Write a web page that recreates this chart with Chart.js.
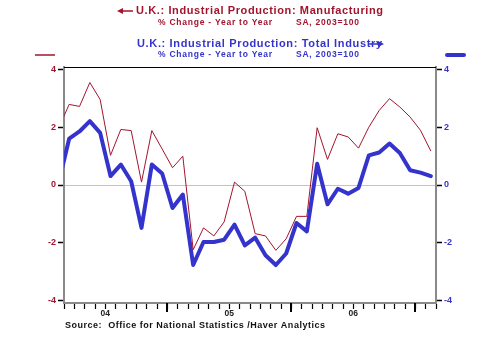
<!DOCTYPE html>
<html>
<head>
<meta charset="utf-8">
<script src="https://cdn.jsdelivr.net/npm/chart.js@4.4.1/dist/chart.umd.min.js"></script>
<style>
  html, body { margin: 0; padding: 0; background: #fff; }
  #wrap { width: 500px; height: 340px; }
</style>
</head>
<body>
<div id="wrap"><canvas id="chart" width="500" height="340"></canvas></div>
<script>
// months, Feb 2004 .. Feb 2007
const months = ['Feb-04','Mar-04','Apr-04','May-04','Jun-04','Jul-04','Aug-04','Sep-04','Oct-04','Nov-04','Dec-04',
  'Jan-05','Feb-05','Mar-05','Apr-05','May-05','Jun-05','Jul-05','Aug-05','Sep-05','Oct-05','Nov-05','Dec-05',
  'Jan-06','Feb-06','Mar-06','Apr-06','May-06','Jun-06','Jul-06','Aug-06','Sep-06','Oct-06','Nov-06','Dec-06',
  'Jan-07','Feb-07'];

// % change year to year
const manufacturing = [2.0, 2.80, 2.73, 3.56, 2.97, 1.03, 1.93, 1.89, 0.10, 1.89, 1.25,
  0.60, 1.00, -2.25, -1.49, -1.77, -1.28, 0.10, -0.22, -1.69, -1.77, -2.27,
  -1.87, -1.09, -1.09, 1.99, 0.89, 1.78, 1.67, 1.28, 2.01, 2.59, 3.00,
  2.71, 2.36, 1.90, 1.18];
const totalIndustry = [0.10, 1.61, 1.86, 2.22, 1.81, 0.31, 0.71, 0.13, -1.49, 0.71, 0.40,
  -0.80, -0.33, -2.78, -1.98, -1.98, -1.90, -1.38, -2.10, -1.83, -2.44, -2.78,
  -2.38, -1.32, -1.61, 0.74, -0.67, -0.13, -0.30, -0.10, 1.03, 1.13, 1.44,
  1.11, 0.51, 0.43, 0.31];

const yTicks = [-4, -2, 0, 2, 4];

const RED = '#A3142E';
const BLUE = '#3434CC';

// month k starts at value k - 0.5
const monthAt = (v) => months[Math.round(v + 0.5)] || '';

// titles, legend keys, source line
const decorPlugin = {
  id: 'decor',
  afterDraw(chart) {
    const ctx = chart.ctx;
    const a = chart.chartArea;
    ctx.save();

    // top frame line
    ctx.strokeStyle = '#000';
    ctx.lineWidth = 1;
    ctx.beginPath();
    ctx.moveTo(a.left, a.top + 0.5);
    ctx.lineTo(a.right, a.top + 0.5);
    ctx.stroke();

    // longer year ticks
    const xs = chart.scales.x;
    ctx.strokeStyle = '#000';
    ctx.lineWidth = 2;
    xs.ticks.forEach(t => {
      if (monthAt(t.value).startsWith('Jan')) {
        const px = Math.round(xs.getPixelForValue(t.value));
        ctx.beginPath();
        ctx.moveTo(px, a.bottom);
        ctx.lineTo(px, a.bottom + 9);
        ctx.stroke();
      }
    });

    const fit = (text, x0, x1, y) => {
      ctx.letterSpacing = '0px';
      const w = ctx.measureText(text).width;
      ctx.letterSpacing = ((x1 - x0 - w) / (text.length - 1)) + 'px';
      ctx.fillText(text, x0, y);
      ctx.letterSpacing = '0px';
    };
    ctx.textAlign = 'left';
    ctx.textBaseline = 'middle';

    // manufacturing title
    ctx.fillStyle = RED;
    ctx.font = 'bold 11px "Liberation Sans", Arial, sans-serif';
    fit('U.K.: Industrial Production: Manufacturing', 136, 383, 11);
    ctx.font = 'bold 8.5px "Liberation Sans", Arial, sans-serif';
    fit('% Change - Year to Year', 158, 272, 23);
    fit('SA, 2003=100', 296, 359, 23);
    ctx.strokeStyle = RED;
    ctx.lineWidth = 1.5;
    ctx.beginPath();
    ctx.moveTo(120, 11);
    ctx.lineTo(133, 11);
    ctx.stroke();
    ctx.beginPath();
    ctx.moveTo(117, 11);
    ctx.lineTo(123, 8);
    ctx.lineTo(123, 14);
    ctx.closePath();
    ctx.fill();

    // total industry title
    ctx.fillStyle = BLUE;
    ctx.font = 'bold 11px "Liberation Sans", Arial, sans-serif';
    fit('U.K.: Industrial Production: Total Industry', 137, 382, 44);
    ctx.font = 'bold 8.5px "Liberation Sans", Arial, sans-serif';
    fit('% Change - Year to Year', 158, 272, 55);
    fit('SA, 2003=100', 296, 359, 55);
    ctx.strokeStyle = BLUE;
    ctx.lineWidth = 1.5;
    ctx.beginPath();
    ctx.moveTo(369, 44);
    ctx.lineTo(381, 44);
    ctx.stroke();
    ctx.beginPath();
    ctx.moveTo(384, 44);
    ctx.lineTo(378, 41);
    ctx.lineTo(378, 47);
    ctx.closePath();
    ctx.fill();

    // legend keys
    ctx.strokeStyle = RED;
    ctx.lineWidth = 1.5;
    ctx.beginPath();
    ctx.moveTo(35, 55);
    ctx.lineTo(55, 55);
    ctx.stroke();
    ctx.strokeStyle = BLUE;
    ctx.lineWidth = 4;
    ctx.lineCap = 'round';
    ctx.beginPath();
    ctx.moveTo(447, 55);
    ctx.lineTo(464, 55);
    ctx.stroke();

    // source
    ctx.fillStyle = '#111';
    ctx.font = 'bold 9px "Liberation Sans", Arial, sans-serif';
    fit('Source:  Office for National Statistics /Haver Analytics', 65, 325, 326);

    ctx.restore();
  }
};

const yAxis = (pos, color) => ({
  position: pos,
  min: -4.1,
  max: 4.1,
  afterBuildTicks: (s) => { s.ticks = yTicks.map(v => ({ value: v })); },
  afterFit: (s) => { s.width = 64; },
  border: { display: true, color: '#8a8a8a', width: 2 },
  grid: {
    drawOnChartArea: pos === 'left',
    color: (c) => (c.tick && c.tick.value === 0) ? '#c4c4c4' : 'rgba(0,0,0,0)',
    lineWidth: 1,
    tickColor: '#000',
    tickLength: 6,
    tickWidth: 1.5
  },
  ticks: {
    color: color,
    padding: 2,
    font: { family: '"Liberation Sans", Arial, sans-serif', size: 9, weight: 'bold' },
    callback: (v) => String(v)
  }
});

new Chart(document.getElementById('chart'), {
  type: 'line',
  data: {
    datasets: [
      {
        label: 'Manufacturing',
        data: manufacturing.map((v, i) => ({ x: i, y: v })),
        borderColor: RED,
        borderWidth: 1,
        pointRadius: 0,
        tension: 0,
        yAxisID: 'y',
        clip: 0
      },
      {
        label: 'Total Industry',
        data: totalIndustry.map((v, i) => ({ x: i, y: v })),
        borderColor: BLUE,
        borderWidth: 4,
        borderJoinStyle: 'round',
        borderCapStyle: 'round',
        pointRadius: 0,
        tension: 0,
        yAxisID: 'y1',
        clip: 0
      }
    ]
  },
  options: {
    responsive: false,
    animation: false,
    events: [],
    layout: { padding: { top: 67, left: 0, right: 0, bottom: 0 } },
    plugins: { legend: { display: false }, title: { display: false }, tooltip: { enabled: false } },
    scales: {
      x: {
        type: 'linear',
        min: 0.5,
        max: months.length - 0.5,
        afterBuildTicks: (s) => { s.ticks = months.map((m, i) => ({ value: i + 0.5 })); },
        afterFit: (s) => { s.height = 37; },
        border: { display: true, color: '#8a8a8a', width: 2 },
        grid: {
          drawOnChartArea: false,
          tickColor: '#000',
          tickLength: 6,
          tickWidth: 1.2
        },
        ticks: {
          autoSkip: false,
          maxRotation: 0,
          padding: 0,
          color: '#222',
          font: { family: '"Liberation Sans", Arial, sans-serif', size: 8.5, weight: 'bold' },
          callback: (v) => {
            const m = monthAt(v);
            return m.startsWith('Jul') ? m.slice(4) : '';
          }
        }
      },
      y: yAxis('left', RED),
      y1: yAxis('right', BLUE)
    }
  },
  plugins: [decorPlugin]
});
</script>
</body>
</html>
